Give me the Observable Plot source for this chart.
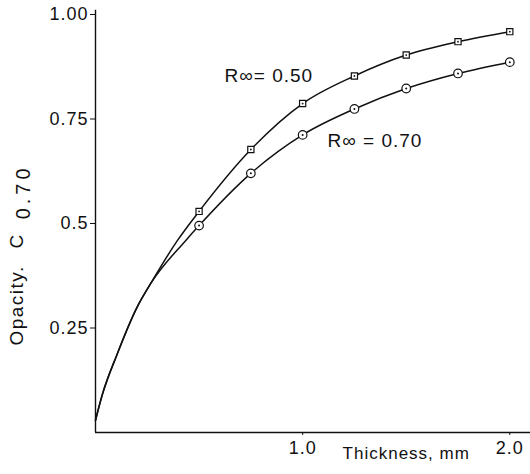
<!DOCTYPE html>
<html><head><meta charset="utf-8">
<script src="https://cdn.jsdelivr.net/npm/d3@7"></script>
<script src="https://cdn.jsdelivr.net/npm/@observablehq/plot@0.6"></script>
<style>
body{margin:0;background:#fff;}
#chart svg text{letter-spacing:1px;}
#chart svg .ttl text{letter-spacing:1.5px;}
#chart svg .sub text{letter-spacing:4px;}
</style></head><body><div id="chart"></div>
<script>
// Measured points (markers)
const thickness = [0.5, 0.75, 1.0, 1.25, 1.5, 1.75, 2.0];
const opacityR050 = [0.529, 0.677, 0.787, 0.853, 0.903, 0.935, 0.959];
const opacityR070 = [0.495, 0.620, 0.712, 0.774, 0.823, 0.859, 0.886];
// Common starting part of both curves
const startThickness = [0, 0.032, 0.105, 0.201, 0.266];
const startOpacity = [0.029, 0.089, 0.188, 0.300, 0.356];
// Where the two curves have separated
const bendThicknessR050 = [0.395];
const bendOpacityR050 = [0.459];
const bendThicknessR070 = [0.435];
const bendOpacityR070 = [0.459];
// Ticks
const yTicks = [0.25, 0.5, 0.75, 1.0];
const yTickLabels = ["0.25", "0.5", "0.75", "1.00"];
const xTicks = [1.0, 2.0];
const xTickLabels = ["1.0", "2.0"];
// Annotations (anchored in data units)
const seriesNames = ["R∞= 0.50", "R∞ = 0.70"];
const seriesNameThickness = [0.623, 1.12];
const seriesNameOpacity = [0.853, 0.697];
const xTitle = "Thickness, mm";
const yTitleParts = ["Opacity.", "C", "0.70"];

const zip = (xs, ys) => xs.map((x, i) => ({x, y: ys[i]}));
const lineR050 = [...zip(startThickness, startOpacity), ...zip(bendThicknessR050, bendOpacityR050), ...zip(thickness, opacityR050)];
const lineR070 = [...zip(startThickness, startOpacity), ...zip(bendThicknessR070, bendOpacityR070), ...zip(thickness, opacityR070)];
const ptsR050 = zip(thickness, opacityR050);
const ptsR070 = zip(thickness, opacityR070);
const names = seriesNames.map((t, i) => ({t, x: seriesNameThickness[i], y: seriesNameOpacity[i]}));

const font = '"Liberation Sans", Arial, Helvetica, sans-serif';
const ink = "#111";
const plot = Plot.plot({
  width: 530, height: 474,
  marginLeft: 95, marginRight: 0, marginTop: 14, marginBottom: 42,
  style: {fontFamily: font, fontSize: "18px", color: ink, background: "#fff"},
  x: {domain: [0, 2.1]},
  y: {domain: [0, 1]},
  marks: [
    Plot.ruleX([0], {y1: 0, y2: 1.01, stroke: ink, strokeWidth: 1.4}),
    Plot.ruleY([0], {x1: 0, x2: 2.1, stroke: ink, strokeWidth: 1.4}),
    Plot.axisY(yTicks, {tickFormat: d => yTickLabels[yTicks.indexOf(d)], tickSize: 5, tickPadding: 2, fontSize: 18, label: null, stroke: ink, fill: ink}),
    Plot.axisX(xTicks, {tickFormat: d => xTickLabels[xTicks.indexOf(d)], tickSize: 3, tickPadding: 6, fontSize: 18, label: null, stroke: ink, fill: ink}),
    Plot.line(lineR050, {x: "x", y: "y", curve: "monotone-x", stroke: ink, strokeWidth: 1.5}),
    Plot.line(lineR070, {x: "x", y: "y", curve: "monotone-x", stroke: ink, strokeWidth: 1.5}),
    Plot.dot(ptsR050, {x: "x", y: "y", symbol: "square", r: 3.5, fill: "white", stroke: ink, strokeWidth: 1.2}),
    Plot.dot(ptsR050, {x: "x", y: "y", r: 0.9, fill: ink}),
    Plot.dot(ptsR070, {x: "x", y: "y", r: 4.3, fill: "white", stroke: ink, strokeWidth: 1.2}),
    Plot.dot(ptsR070, {x: "x", y: "y", r: 1, fill: ink}),
    Plot.text(names, {x: "x", y: "y", text: "t", textAnchor: "start", fontSize: 19, fill: ink}),
    Plot.text([xTitle], {x: 1.5, frameAnchor: "bottom", dy: 26, text: d => d, fontSize: 17, fill: ink}),
    Plot.text([yTitleParts[0]], {y: 0.208, frameAnchor: "left", dx: -79, rotate: -90, text: d => d, fontSize: 19, fill: ink, className: "ttl"}),
    Plot.text([yTitleParts[1]], {y: 0.440, frameAnchor: "left", dx: -79, rotate: -90, text: d => d, fontSize: 19, fill: ink}),
    Plot.text([yTitleParts[2]], {y: 0.510, frameAnchor: "left", dx: -72, rotate: -90, text: d => d, fontSize: 20, fill: ink, className: "sub"})
  ]
});
document.getElementById("chart").appendChild(plot);
</script></body></html>
